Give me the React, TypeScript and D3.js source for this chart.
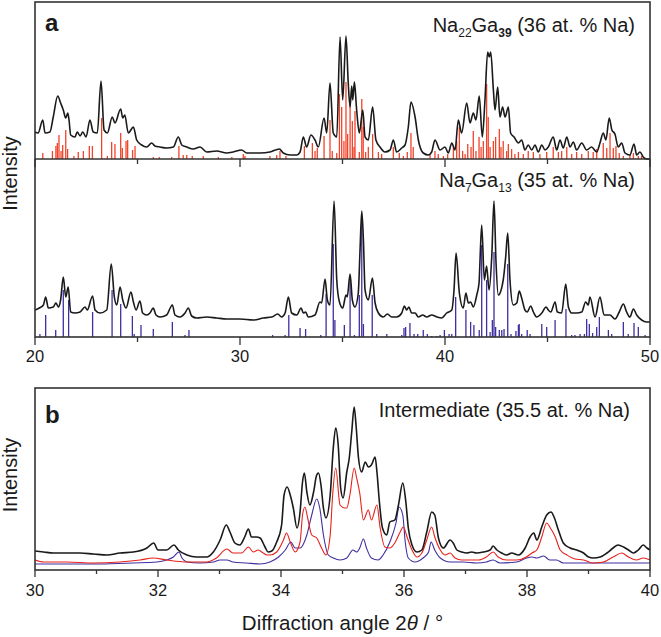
import React from "react";
import * as d3 from "d3";

type Pt = [number, number];

// Na22Ga39 pattern, panel a top: [2θ, intensity (a.u.)]
const na22Obs: Pt[] = [
  [20.0, 27], [20.15, 26], [20.38, 39], [20.49, 26], [20.73, 27], [20.89, 42], [21.11, 63], [21.25, 56],
  [21.38, 49], [21.5, 41], [21.6, 46], [21.66, 39], [21.74, 24], [21.95, 22], [22.06, 27], [22.2, 23],
  [22.33, 27], [22.49, 22], [22.68, 39], [22.84, 27], [23.04, 26], [23.22, 78], [23.37, 29], [23.53, 26],
  [23.77, 42], [23.9, 36], [24.18, 50], [24.28, 41], [24.38, 44], [24.55, 26], [24.8, 32], [24.96, 19],
  [25.2, 14], [25.45, 12], [25.69, 16], [25.85, 13], [26.1, 12], [26.42, 11], [26.75, 12], [26.99, 22],
  [27.16, 14], [27.4, 12], [27.72, 10], [28.05, 12], [28.38, 7], [28.86, 8], [29.35, 6], [29.67, 7],
  [30.08, 9], [30.33, 6], [30.98, 6], [31.46, 7], [31.92, 10], [32.11, 6], [32.44, 4], [32.77, 4],
  [32.93, 7], [33.09, 22], [33.25, 12], [33.46, 24], [33.66, 19], [33.82, 12], [34.1, 41], [34.23, 26],
  [34.39, 76], [34.55, 26], [34.72, 22], [34.88, 122], [35.01, 59], [35.17, 123], [35.28, 76], [35.37, 52],
  [35.45, 73], [35.5, 59], [35.58, 77], [35.69, 49], [35.82, 26], [35.99, 49], [36.1, 22], [36.26, 19],
  [36.47, 52], [36.63, 19], [36.83, 12], [37.07, 7], [37.32, 9], [37.48, 19], [37.64, 7], [37.89, 11],
  [38.05, 14], [38.21, 32], [38.34, 57], [38.54, 42], [38.7, 19], [38.94, 6], [39.19, 4], [39.35, 7],
  [39.51, 19], [39.76, 9], [40.0, 12], [40.16, 6], [40.33, 16], [40.49, 9], [40.65, 39], [40.81, 26],
  [41.06, 56], [41.22, 36], [41.38, 46], [41.51, 39], [41.67, 63], [41.82, 22], [41.95, 59], [42.08, 107],
  [42.16, 102], [42.23, 107], [42.36, 69], [42.44, 49], [42.57, 72], [42.68, 42], [42.81, 52], [42.93, 42],
  [43.09, 52], [43.2, 26], [43.37, 22], [43.58, 16], [43.74, 19], [43.9, 9], [44.06, 14], [44.23, 9],
  [44.39, 14], [44.55, 7], [44.72, 14], [44.88, 9], [45.04, 12], [45.28, 22], [45.45, 9], [45.61, 19],
  [45.77, 11], [45.94, 22], [46.1, 12], [46.26, 17], [46.42, 9], [46.67, 16], [46.91, 9], [47.15, 12],
  [47.4, 7], [47.56, 16], [47.72, 26], [47.85, 19], [48.01, 41], [48.14, 29], [48.29, 25], [48.45, 12],
  [48.62, 16], [48.78, 6], [49.02, 4], [49.22, 15], [49.35, 4], [49.51, 7], [49.67, 2], [49.84, 0], [50.0, 0],
];

// Na22Ga39 reference reflections: [2θ, relative intensity]
const na22Ref: Pt[] = [
  [20.38, 6], [20.85, 8], [21.02, 13], [21.09, 16], [21.17, 24], [21.27, 8], [21.35, 14], [21.5, 29],
  [21.59, 10], [21.9, 3], [22.11, 7], [22.36, 8], [22.65, 13], [22.8, 13], [23.25, 41], [23.53, 3],
  [23.74, 17], [23.9, 15], [24.18, 26], [24.26, 11], [24.44, 18], [24.52, 19], [24.76, 9], [24.88, 13],
  [25.77, 2], [26.06, 2], [26.67, 2], [27.02, 13], [27.23, 4], [27.4, 4], [27.67, 3], [28.21, 3],
  [28.94, 2], [29.6, 2], [30.16, 5], [30.24, 3], [31.46, 3], [31.79, 4], [31.95, 8], [32.24, 3],
  [33.14, 13], [33.53, 16], [33.66, 8], [33.77, 11], [34.1, 23], [34.39, 39], [34.5, 8], [34.72, 6],
  [34.85, 65], [34.96, 52], [35.07, 18], [35.17, 77], [35.25, 25], [35.37, 62], [35.48, 38], [35.56, 12],
  [35.61, 48], [35.82, 7], [35.94, 60], [36.01, 32], [36.13, 7], [36.26, 12], [36.47, 25], [36.75, 7],
  [36.91, 5], [37.48, 12], [37.77, 6], [37.97, 3], [38.16, 7], [38.34, 26], [38.45, 12], [39.27, 4],
  [39.51, 8], [39.67, 5], [39.92, 3], [40.13, 5], [40.41, 12], [40.57, 18], [40.7, 32], [40.86, 8],
  [40.98, 5], [41.11, 15], [41.27, 12], [41.38, 28], [41.51, 8], [41.66, 22], [41.76, 12], [41.87, 18],
  [42.03, 75], [42.11, 42], [42.2, 12], [42.36, 18], [42.47, 22], [42.65, 30], [42.73, 12], [42.84, 18],
  [43.01, 8], [43.09, 15], [43.25, 10], [43.41, 5], [43.58, 7], [43.82, 5], [44.06, 8], [44.31, 7],
  [44.63, 5], [44.96, 7], [45.28, 12], [45.53, 7], [45.69, 8], [45.94, 12], [46.18, 5], [46.42, 7],
  [46.67, 5], [46.99, 8], [47.23, 7], [47.4, 10], [47.72, 16], [47.89, 11], [48.05, 26], [48.21, 11],
  [48.34, 13], [48.5, 6], [48.7, 3], [49.02, 4], [49.19, 6], [49.43, 3], [49.59, 3],
];

// Na7Ga13 pattern, panel a bottom
const na7Obs: Pt[] = [
  [20.0, 27], [20.21, 29], [20.41, 32], [20.52, 40], [20.65, 29], [20.89, 30], [21.02, 34], [21.14, 30],
  [21.25, 37], [21.38, 60], [21.5, 40], [21.62, 50], [21.74, 25], [21.95, 24], [22.2, 25], [22.44, 30],
  [22.55, 27], [22.81, 41], [22.93, 27], [23.17, 24], [23.5, 27], [23.72, 73], [23.87, 40], [23.99, 32],
  [24.15, 50], [24.28, 37], [24.44, 29], [24.68, 45], [24.8, 35], [24.93, 27], [25.12, 36], [25.25, 24],
  [25.45, 22], [25.61, 24], [25.77, 29], [25.9, 22], [26.1, 20], [26.42, 22], [26.7, 32], [26.83, 22],
  [27.07, 20], [27.32, 24], [27.48, 29], [27.64, 21], [27.89, 19], [28.38, 20], [28.86, 19], [29.35, 18],
  [30.0, 18], [30.65, 17], [31.14, 19], [31.55, 20], [31.84, 23], [32.03, 20], [32.2, 24], [32.36, 40],
  [32.52, 24], [32.77, 22], [32.98, 29], [33.09, 24], [33.2, 25], [33.33, 20], [33.66, 22], [33.9, 35],
  [33.98, 34], [34.15, 58], [34.26, 37], [34.39, 32], [34.59, 136], [34.72, 57], [34.85, 35], [35.01, 29],
  [35.17, 42], [35.23, 40], [35.37, 63], [35.48, 37], [35.61, 30], [35.77, 44], [35.85, 84], [35.94, 126],
  [36.02, 97], [36.1, 47], [36.26, 37], [36.46, 59], [36.59, 34], [36.75, 24], [36.99, 20], [37.19, 23],
  [37.4, 20], [37.64, 20], [37.89, 24], [38.02, 31], [38.13, 27], [38.24, 30], [38.37, 24], [38.54, 24],
  [38.7, 20], [38.91, 22], [39.11, 20], [39.35, 22], [39.6, 20], [39.84, 19], [40.08, 24], [40.33, 27],
  [40.44, 47], [40.54, 84], [40.7, 44], [40.89, 29], [41.02, 44], [41.14, 34], [41.25, 35], [41.38, 30],
  [41.55, 42], [41.66, 54], [41.79, 112], [41.92, 57], [42.03, 71], [42.15, 47], [42.28, 80], [42.39, 136],
  [42.49, 74], [42.6, 42], [42.84, 57], [42.96, 80], [43.06, 104], [43.17, 57], [43.33, 32], [43.5, 34],
  [43.62, 46], [43.74, 39], [43.9, 27], [44.01, 25], [44.18, 31], [44.31, 25], [44.47, 20], [44.72, 24],
  [44.93, 30], [45.04, 27], [45.16, 25], [45.37, 35], [45.48, 25], [45.69, 24], [45.89, 53], [46.02, 30],
  [46.18, 24], [46.42, 24], [46.67, 25], [46.86, 35], [46.99, 32], [47.07, 40], [47.32, 20], [47.56, 40],
  [47.76, 22], [48.05, 22], [48.29, 18], [48.5, 25], [48.7, 33], [48.86, 25], [49.02, 20], [49.19, 28],
  [49.35, 22], [49.59, 17], [49.84, 15], [50.0, 15],
];

// Na7Ga13 reference reflections
const na7Ref: Pt[] = [
  [20.24, 3], [20.52, 22], [21.01, 7], [21.38, 47], [21.64, 37], [22.81, 25], [23.76, 47], [24.18, 33],
  [24.75, 21], [24.84, 3], [25.17, 12], [25.77, 8], [26.7, 15], [27.32, 2], [27.51, 7], [31.59, 2],
  [32.2, 2], [32.38, 22], [32.93, 9], [33.2, 8], [33.94, 2], [34.2, 43], [34.55, 93], [34.63, 17],
  [35.09, 12], [35.37, 60], [35.58, 2], [35.82, 42], [35.94, 114], [36.02, 13], [36.45, 42], [36.67, 3],
  [37.16, 3], [37.89, 2], [38.0, 9], [38.08, 10], [38.29, 14], [38.49, 3], [38.67, 3], [38.94, 7],
  [39.14, 3], [39.35, 1], [39.6, 1], [39.76, 2], [39.97, 7], [40.2, 3], [40.33, 3], [40.52, 40],
  [41.02, 27], [41.25, 15], [41.41, 12], [41.67, 7], [41.79, 92], [42.03, 57], [42.2, 5], [42.31, 17],
  [42.39, 85], [42.47, 10], [42.65, 7], [42.77, 7], [42.88, 8], [43.06, 73], [43.22, 3], [43.46, 6],
  [43.58, 12], [43.62, 13], [43.74, 3], [44.01, 7], [44.15, 3], [44.72, 13], [44.96, 10], [45.37, 17],
  [45.9, 28], [46.18, 2], [46.34, 2], [46.59, 3], [46.8, 3], [46.91, 18], [47.04, 13], [47.2, 4],
  [47.4, 10], [47.53, 20], [47.97, 7], [48.13, 3], [48.7, 15], [48.94, 3], [49.22, 14], [49.43, 10],
  [49.76, 2],
];

// Intermediate sample, panel b
const interObs: Pt[] = [
  [30.0, 19], [30.14, 18], [30.3, 17], [30.52, 17], [30.73, 17], [30.95, 16], [31.17, 15], [31.38, 17],
  [31.6, 18], [31.82, 22], [31.93, 27], [32.0, 20], [32.14, 20], [32.26, 25], [32.33, 20], [32.47, 15],
  [32.63, 13], [32.79, 13], [32.9, 18], [33.01, 30], [33.11, 45], [33.17, 38], [33.25, 27], [33.33, 25],
  [33.41, 33], [33.47, 41], [33.52, 33], [33.6, 33], [33.66, 32], [33.74, 23], [33.79, 18], [33.85, 19],
  [33.93, 28], [34.01, 45], [34.05, 75], [34.1, 83], [34.15, 75], [34.2, 62], [34.26, 42], [34.31, 58],
  [34.35, 88], [34.38, 97], [34.42, 78], [34.47, 65], [34.53, 78], [34.58, 95], [34.61, 97], [34.65, 85],
  [34.69, 62], [34.73, 52], [34.8, 75], [34.85, 122], [34.89, 142], [34.93, 125], [34.97, 82], [35.01, 72],
  [35.07, 98], [35.11, 112], [35.15, 138], [35.19, 163], [35.22, 145], [35.26, 112], [35.31, 98], [35.37, 108],
  [35.42, 103], [35.47, 105], [35.53, 113], [35.56, 98], [35.6, 68], [35.65, 42], [35.72, 35], [35.77, 48],
  [35.85, 50], [35.91, 65], [35.98, 87], [36.03, 68], [36.07, 42], [36.13, 25], [36.21, 18], [36.29, 20],
  [36.37, 38], [36.45, 58], [36.5, 55], [36.56, 32], [36.64, 22], [36.75, 30], [36.8, 27], [36.86, 20],
  [36.94, 18], [37.02, 17], [37.1, 18], [37.18, 17], [37.29, 18], [37.4, 20], [37.45, 24], [37.51, 20],
  [37.59, 17], [37.67, 15], [37.75, 17], [37.86, 15], [37.97, 22], [38.05, 33], [38.11, 37], [38.16, 30],
  [38.24, 43], [38.32, 55], [38.39, 58], [38.44, 53], [38.51, 40], [38.59, 27], [38.7, 22], [38.81, 20],
  [38.92, 17], [39.0, 13], [39.08, 12], [39.19, 13], [39.3, 17], [39.4, 22], [39.48, 25], [39.57, 23],
  [39.65, 20], [39.73, 17], [39.81, 20], [39.89, 25], [39.95, 22], [40.0, 20],
];

const interNa22: Pt[] = [
  [30.0, 10], [30.14, 8], [30.52, 8], [30.95, 7], [31.38, 8], [31.71, 10], [31.92, 12], [32.14, 10],
  [32.47, 8], [32.79, 8], [32.95, 12], [33.12, 21], [33.22, 17], [33.36, 17], [33.47, 23], [33.55, 18],
  [33.63, 20], [33.71, 17], [33.77, 15], [33.82, 15], [33.93, 18], [34.04, 30], [34.09, 37], [34.15, 28],
  [34.23, 18], [34.31, 28], [34.35, 55], [34.39, 63], [34.43, 53], [34.5, 35], [34.58, 32], [34.66, 22],
  [34.73, 15], [34.8, 35], [34.84, 75], [34.89, 102], [34.96, 65], [35.04, 62], [35.07, 62], [35.12, 75],
  [35.19, 102], [35.23, 92], [35.28, 77], [35.34, 50], [35.42, 60], [35.47, 50], [35.56, 65], [35.61, 43],
  [35.69, 23], [35.77, 22], [35.85, 27], [35.93, 37], [35.99, 43], [36.05, 33], [36.13, 20], [36.21, 13],
  [36.29, 17], [36.37, 30], [36.45, 43], [36.5, 33], [36.59, 20], [36.67, 15], [36.75, 17], [36.83, 12],
  [36.94, 10], [37.07, 10], [37.21, 10], [37.34, 13], [37.45, 18], [37.53, 13], [37.67, 10], [37.83, 10],
  [37.99, 13], [38.08, 17], [38.16, 20], [38.24, 33], [38.32, 47], [38.37, 43], [38.46, 33], [38.54, 20],
  [38.65, 15], [38.78, 11], [38.92, 10], [39.08, 7], [39.24, 8], [39.4, 13], [39.54, 17], [39.65, 13],
  [39.78, 10], [39.89, 12], [40.0, 10],
];

const interNa7: Pt[] = [
  [30.0, 6], [30.52, 6], [31.06, 6], [31.6, 7], [31.98, 8], [32.14, 10], [32.25, 13], [32.34, 18],
  [32.39, 12], [32.47, 8], [32.68, 7], [32.9, 8], [33.01, 10], [33.12, 10], [33.22, 8], [33.44, 7],
  [33.66, 6], [33.82, 8], [33.96, 13], [34.07, 20], [34.16, 28], [34.23, 22], [34.31, 22], [34.42, 35],
  [34.5, 55], [34.58, 71], [34.63, 62], [34.69, 35], [34.77, 15], [34.85, 12], [34.96, 10], [35.07, 12],
  [35.17, 20], [35.23, 18], [35.28, 22], [35.34, 31], [35.39, 22], [35.47, 12], [35.58, 10], [35.66, 15],
  [35.77, 28], [35.87, 47], [35.92, 63], [35.98, 55], [36.02, 28], [36.07, 12], [36.18, 8], [36.31, 12],
  [36.4, 18], [36.44, 28], [36.5, 20], [36.59, 12], [36.75, 8], [36.96, 8], [37.18, 7], [37.34, 8],
  [37.45, 10], [37.56, 7], [37.83, 8], [37.99, 12], [38.08, 13], [38.16, 12], [38.27, 14], [38.37, 10],
  [38.48, 10], [38.59, 7], [38.86, 7], [39.19, 7], [39.51, 7], [40.0, 7],
];

const majorA = [20, 30, 40, 50];
const minorA = [25, 35, 45];
const majorB = [30, 32, 34, 36, 38, 40];
const minorB = [31, 33, 35, 37, 39];

const FONT = "'Liberation Sans', Arial, Helvetica, sans-serif";
const RED = "#f1432a";
const BLUE = "#3f2f9f";
const INK = "#1a1a1a";
const FRAME = "#333";

export default function App() {
  const W = 661;
  const H = 637;
  const left = 35;
  const right = 650;
  const aTop = 2;
  const aMid = 159;
  const aBot = 337;
  const bTop = 388;
  const bBot = 570;

  const xA = d3.scaleLinear().domain([20, 50]).range([left, right]);
  const xB = d3.scaleLinear().domain([30, 40]).range([left, right]);
  const yA1 = d3.scaleLinear().domain([0, aMid - aTop]).range([aMid, aTop]);
  const yA2 = d3.scaleLinear().domain([0, aBot - aMid]).range([aBot, aMid]);
  const yB = d3.scaleLinear().domain([0, bBot - bTop]).range([bBot, bTop]);

  const path = (x: d3.ScaleLinear<number, number>, y: d3.ScaleLinear<number, number>, d: Pt[]) =>
    d3
      .line<Pt>()
      .x((p) => x(p[0]))
      .y((p) => y(p[1]))
      .curve(d3.curveMonotoneX)(d) || "";

  const sticks = (d: Pt[], y: d3.ScaleLinear<number, number>, color: string) =>
    d.map(([t, v], i) => (
      <line key={i} x1={xA(t)} x2={xA(t)} y1={y(0)} y2={y(v)} stroke={color} strokeWidth={1.3} />
    ));

  return (
    <div style={{ position: "absolute", left: 0, top: 0 }}>
      <svg width={W} height={H} style={{ display: "block", background: "#fff" }} fontFamily={FONT}>
        {/* panel a */}
        {sticks(na22Ref, yA1, RED)}
        {sticks(na7Ref, yA2, BLUE)}
        <path d={path(xA, yA1, na22Obs)} fill="none" stroke={INK} strokeWidth={1.6} strokeLinejoin="round" />
        <path d={path(xA, yA2, na7Obs)} fill="none" stroke={INK} strokeWidth={1.6} strokeLinejoin="round" />

        {minorA.map((t) => (
          <g key={"ma" + t}>
            <line x1={xA(t)} x2={xA(t)} y1={aMid} y2={aMid + 5} stroke={FRAME} strokeWidth={1.3} />
            <line x1={xA(t)} x2={xA(t)} y1={aBot} y2={aBot + 5} stroke={FRAME} strokeWidth={1.3} />
          </g>
        ))}
        {majorA.map((t) => (
          <g key={"MA" + t}>
            <line x1={xA(t)} x2={xA(t)} y1={aMid} y2={aMid + 8} stroke={FRAME} strokeWidth={1.3} />
            <line x1={xA(t)} x2={xA(t)} y1={aBot} y2={aBot + 8} stroke={FRAME} strokeWidth={1.3} />
            <text x={xA(t)} y={aBot + 25} textAnchor="middle" fontSize={16.5} fill={INK}>
              {t}
            </text>
          </g>
        ))}
        <line x1={left} x2={right} y1={aMid} y2={aMid} stroke={FRAME} strokeWidth={1.5} />
        <rect x={left} y={aTop} width={right - left} height={aBot - aTop} fill="none" stroke={FRAME} strokeWidth={1.6} />

        <text x={45} y={31} fontSize={24} fontWeight="bold" fill={INK}>a</text>
        <text x={635} y={32} textAnchor="end" fontSize={20} fill={INK}>
          Na<tspan fontSize={12} dy={5}>22</tspan>
          <tspan dy={-5}>Ga</tspan>
          <tspan fontSize={12} dy={5} fontWeight="bold">39</tspan>
          <tspan dy={-5}> (36 at. % Na)</tspan>
        </text>
        <text x={635} y={187} textAnchor="end" fontSize={20} fill={INK}>
          Na<tspan fontSize={12} dy={5}>7</tspan>
          <tspan dy={-5}>Ga</tspan>
          <tspan fontSize={12} dy={5}>13</tspan>
          <tspan dy={-5}> (35 at. % Na)</tspan>
        </text>
        <text transform={`translate(17,${(aTop + aBot) / 2 + 4}) rotate(-90)`} textAnchor="middle" fontSize={20} fill={INK}>
          Intensity
        </text>

        {/* panel b */}
        <path d={path(xB, yB, interNa7)} fill="none" stroke={BLUE} strokeWidth={1.1} strokeLinejoin="round" />
        <path d={path(xB, yB, interNa22)} fill="none" stroke="#e8221b" strokeWidth={1.1} strokeLinejoin="round" />
        <path d={path(xB, yB, interObs)} fill="none" stroke={INK} strokeWidth={1.6} strokeLinejoin="round" />

        {minorB.map((t) => (
          <line key={"mb" + t} x1={xB(t)} x2={xB(t)} y1={bBot} y2={bBot + 4} stroke={FRAME} strokeWidth={1.3} />
        ))}
        {majorB.map((t) => (
          <g key={"MB" + t}>
            <line x1={xB(t)} x2={xB(t)} y1={bBot} y2={bBot + 7} stroke={FRAME} strokeWidth={1.3} />
            <text x={xB(t)} y={bBot + 26} textAnchor="middle" fontSize={16.5} fill={INK}>
              {t}
            </text>
          </g>
        ))}
        <rect x={left} y={bTop} width={right - left} height={bBot - bTop} fill="none" stroke={FRAME} strokeWidth={1.6} />

        <text x={45} y={423} fontSize={24} fontWeight="bold" fill={INK}>b</text>
        <text x={630} y={417} textAnchor="end" fontSize={20} fill={INK}>
          Intermediate (35.5 at. % Na)
        </text>
        <text transform={`translate(17,${(bTop + bBot) / 2 - 4}) rotate(-90)`} textAnchor="middle" fontSize={20} fill={INK}>
          Intensity
        </text>
        <text x={(left + right) / 2} y={630} textAnchor="middle" fontSize={20.5} fill={INK}>
          Diffraction angle 2<tspan fontStyle="italic">θ</tspan> / °
        </text>
      </svg>
    </div>
  );
}
